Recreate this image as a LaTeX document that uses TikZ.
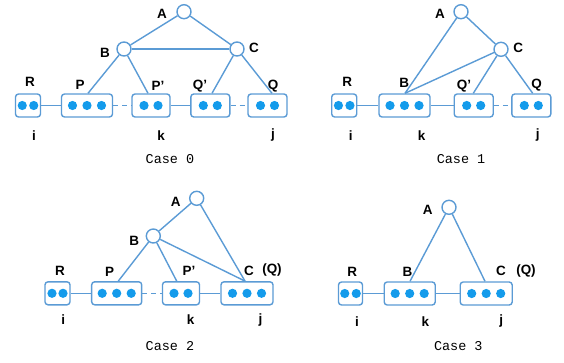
\documentclass[tikz,border=0pt]{standalone}
\usepackage{fontspec}
\usetikzlibrary{calc}
\newfontfamily\labfam{Liberation Sans}
\newfontfamily\capfam{Liberation Mono}
\definecolor{lc}{RGB}{91,155,213}
\definecolor{dc}{RGB}{20,155,235}
\newdimen\px \px=0.03cm
\newcommand\dotsII[2]{\fill[dc] ($(#1)+(-#2,0)$) circle[radius=4.6\px] ($(#1)+(#2,0)$) circle[radius=4.6\px];}
\newcommand\dotsIII[1]{\fill[dc] ($(#1)+(-14.5,0)$) circle[radius=4.6\px] (#1) circle[radius=4.6\px] ($(#1)+(14.5,0)$) circle[radius=4.6\px];}
\tikzset{
  ln/.style={draw=lc, line width=1.2pt},
  ball/.style={circle, draw=lc, line width=1.2pt, fill=white, minimum size=14\px, inner sep=0pt},
  box/.style={draw=lc, line width=1.2pt, rounded corners=3\px, minimum height=23\px, inner sep=0pt, fill=white},
  lab/.style={font=\fontsize{11.5}{13}\labfam\bfseries, inner sep=0pt},
  captext/.style={font=\fontsize{11.5}{13}\capfam, inner sep=0pt},
  dsh/.style={dash pattern=on 5\px off 4\px}
}
\begin{document}
\begin{tikzpicture}[x=0.03cm, y=-0.03cm]
\useasboundingbox (0,0) rectangle (564,362);
% ---------------- Case 0
\node[ball] (A0) at (184,11.7) {};
\node[ball] (B0) at (124,49) {};
\node[ball] (C0) at (237,49) {};
\node[box, minimum width=25\px] (R0) at (28,105.5) {};
\node[box, minimum width=51\px] (P0) at (87,105.5) {};
\node[box, minimum width=38\px] (Pp0) at (151,105.5) {};
\node[box, minimum width=39\px] (Qp0) at (210.3,105.5) {};
\node[box, minimum width=39\px] (Q0) at (267.5,105.5) {};
\draw[ln] (A0) -- (B0);
\draw[ln] (A0) -- (C0);
\draw[ln] (B0) -- (C0);
\draw[ln] (B0) -- ($(P0.north)+(1,0)$);
\draw[ln] (B0) -- ($(Pp0.north)+(-3,0)$);
\draw[ln] (C0) -- ($(Qp0.north)+(1.7,0)$);
\draw[ln] (C0) -- ($(Q0.north)+(4.5,0)$);
\draw[ln] (R0) -- (P0);
\draw[ln,dsh] (P0) -- (Pp0);
\draw[ln] (Pp0) -- (Qp0);
\draw[ln,dsh] (Qp0) -- (Q0);
\dotsII{R0}{5.75}
\dotsIII{P0}
\dotsII{Pp0}{7}
\dotsII{Qp0}{7}
\dotsII{Q0}{7}
\node[lab] (lA0) at (162,14) {A};
\node[lab] (lB0) at (105,53) {B};
\node[lab] (lC0) at (254,48) {C};
\node[lab] (lR0) at (30,82) {R};
\node[lab] (lP0) at (80,85) {P};
\node[lab] (lPp0) at (158,86) {P’};
\node[lab] (lQp0) at (200,86.5) {Q’};
\node[lab] (lQ0) at (273,86) {Q};
\node[lab] (li0) at (34,135.5) {i};
\node[lab] (lk0) at (161,135.5) {k};
\node[lab] (lj0) at (273,135.5) {j};
\node[captext] (cap0) at (170,159) {Case 0};
% ---------------- Case 1
\node[ball] (A1) at (461,11.7) {};
\node[ball] (C1) at (501,49.3) {};
\node[box, minimum width=25\px] (R1) at (344.2,105.5) {};
\node[box, minimum width=51\px] (B1) at (404.5,105.5) {};
\node[box, minimum width=39\px] (Qp1) at (473.7,105.5) {};
\node[box, minimum width=39\px] (Q1) at (531.3,105.5) {};
\draw[ln] (A1) -- (C1);
\draw[ln] (A1) -- ($(B1.north)+(0.5,0)$);
\draw[ln] (C1) -- ($(B1.north)+(0.5,0)$);
\draw[ln] (C1) -- ($(Qp1.north)+(-0.4,0)$);
\draw[ln] (C1) -- ($(Q1.north)+(1.4,0)$);
\draw[ln] (R1) -- (B1);
\draw[ln] (B1) -- (Qp1);
\draw[ln,dsh] (Qp1) -- (Q1);
\dotsII{R1}{5.75}
\dotsIII{B1}
\dotsII{Qp1}{7}
\dotsII{Q1}{7}
\node[lab] (lA1) at (440,14) {A};
\node[lab] (lC1) at (518.3,48.3) {C};
\node[lab] (lR1) at (347.3,82.3) {R};
\node[lab] (lB1) at (404.3,83) {B};
\node[lab] (lQp1) at (464,86) {Q’};
\node[lab] (lQ1) at (536.7,85.5) {Q};
\node[lab] (li1) at (350.7,135.5) {i};
\node[lab] (lk1) at (421.7,135.5) {k};
\node[lab] (lj1) at (537.7,135.5) {j};
\node[captext] (cap1) at (461,159.3) {Case 1};
% ---------------- Case 2
\node[ball] (A2) at (196.7,198.3) {};
\node[ball] (B2) at (153.3,236) {};
\node[box, minimum width=25\px] (R2) at (57.5,293.3) {};
\node[box, minimum width=50\px] (P2) at (116.7,293.3) {};
\node[box, minimum width=37\px] (Pp2) at (181,293.3) {};
\node[box, minimum width=52\px] (C2) at (247,293.3) {};
\draw[ln] (A2) -- (B2);
\draw[ln] (A2) -- ($(C2.north)+(-2,0)$);
\draw[ln] (B2) -- ($(C2.north)+(-2,0)$);
\draw[ln] (B2) -- ($(P2.north)+(1.6,0)$);
\draw[ln] (B2) -- ($(Pp2.north)+(-4.3,0)$);
\draw[ln] (R2) -- (P2);
\draw[ln,dsh] (P2) -- (Pp2);
\draw[ln] (Pp2) -- (C2);
\dotsII{R2}{5.5}
\dotsIII{P2}
\dotsII{Pp2}{7}
\dotsIII{C2}
\node[lab] (lA2) at (175.7,201.7) {A};
\node[lab] (lB2) at (134.3,241) {B};
\node[lab] (lR2) at (60,270.5) {R};
\node[lab] (lP2) at (109.5,272.3) {P};
\node[lab] (lPp2) at (189,271) {P’};
\node[lab] (lC2) at (249,270.5) {C};
\node[lab] (lQ2) at (272,270.5) {(Q)};
\node[lab] (li2) at (63.3,320) {i};
\node[lab] (lk2) at (190.5,320) {k};
\node[lab] (lj2) at (260.5,320) {j};
\node[captext] (cap2) at (170,345.7) {Case 2};
% ---------------- Case 3
\node[ball] (A3) at (449,207.3) {};
\node[box, minimum width=24\px] (R3) at (350.5,293.5) {};
\node[box, minimum width=51\px] (B3) at (409.7,293.5) {};
\node[box, minimum width=52\px] (C3) at (486.2,293.5) {};
\draw[ln] (A3) -- ($(B3.north)+(0.3,0)$);
\draw[ln] (A3) -- ($(C3.north)+(-1.2,0)$);
\draw[ln] (R3) -- (B3);
\draw[ln] (B3) -- (C3);
\dotsII{R3}{5.75}
\dotsIII{B3}
\dotsIII{C3}
\node[lab] (lA3) at (427.7,210) {A};
\node[lab] (lR3) at (352.2,271.7) {R};
\node[lab] (lB3) at (407.5,271.7) {B};
\node[lab] (lC3) at (501,271) {C};
\node[lab] (lQ3) at (526,271) {(Q)};
\node[lab] (li3) at (357,321.5) {i};
\node[lab] (lk3) at (425.3,321.5) {k};
\node[lab] (lj3) at (501.3,321.5) {j};
\node[captext] (cap3) at (458.3,345.7) {Case 3};
\end{tikzpicture}
\end{document}
